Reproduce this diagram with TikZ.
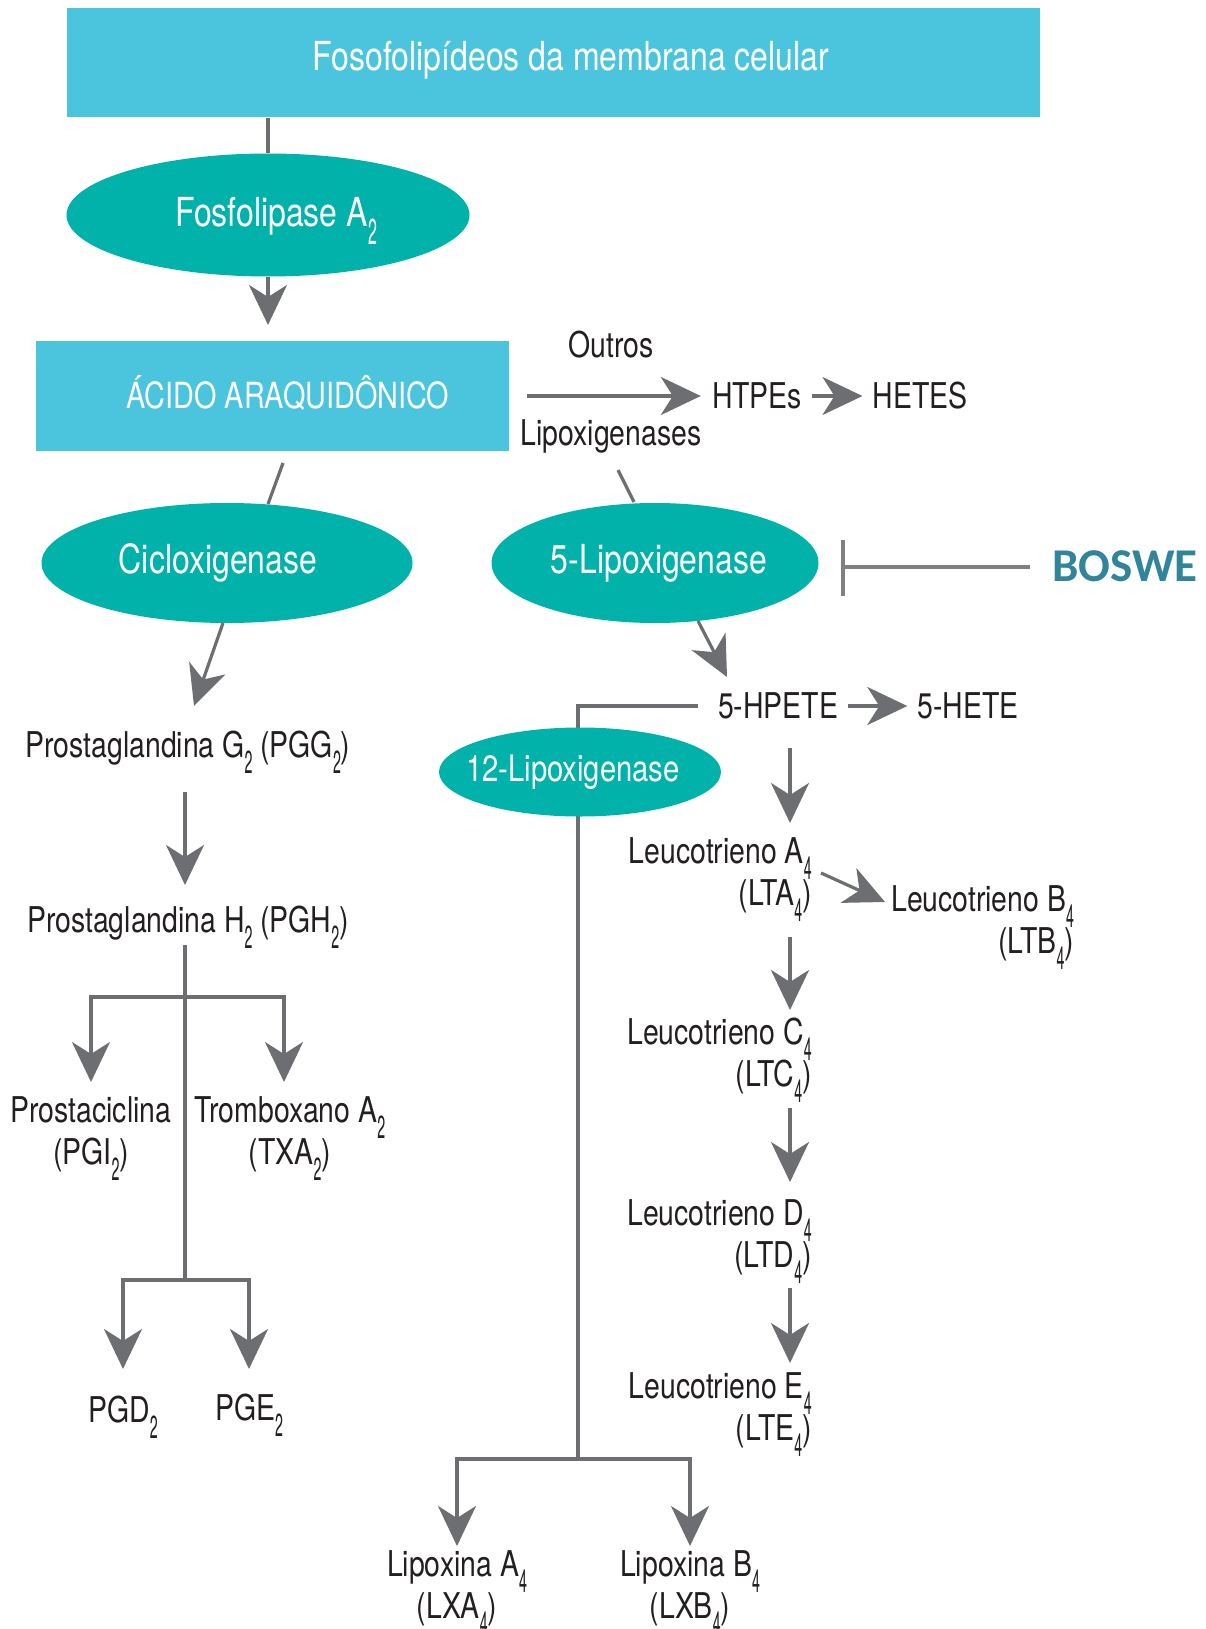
\documentclass[tikz,border=0pt]{standalone}
\usepackage{fontspec}
\setmainfont{TeX Gyre Heros}[FakeStretch=0.8]
\newfontfamily\bosfont{Carlito}
\usetikzlibrary{shapes.geometric,arrows.meta}
\definecolor{boxc}{RGB}{75,197,222}
\definecolor{ellc}{RGB}{0,178,170}
\definecolor{linec}{RGB}{109,110,113}
\definecolor{txtc}{RGB}{35,31,32}
\definecolor{bosc}{RGB}{49,133,155}
\definecolor{inhc}{RGB}{128,128,128}
\newcommand\sbs[1]{\raisebox{-0.45em}[0pt][0pt]{\scalebox{0.5}[0.9]{#1}}}
\begin{document}
\begin{tikzpicture}[x=1pt,y=-1pt,
 box/.style={fill=boxc, draw=none, inner sep=0pt},
 ell/.style={ellipse, fill=ellc, draw=none, inner sep=0pt},
 wtext/.style={text=white, font=\fontsize{40}{44}\selectfont, inner sep=0pt},
 btext/.style={text=txtc, font=\fontsize{35.5}{42}\selectfont, inner sep=0pt},
 conn/.style={draw=linec, line width=3.2pt},
 arr/.style={conn, -{Stealth[length=40pt,width=38pt,inset=12pt]}},
 inhline/.style={draw=inhc, line width=4.5pt},
]
\useasboundingbox (0,0) rectangle (1205,1629);

% top box
\node[box, minimum width=973pt, minimum height=109pt] (fos) at (553,63) {};
\node[wtext] (fost) at (571,60) {Fosofolipídeos da membrana celular};

% Fosfolipase
\node[ell, minimum width=403pt, minimum height=123pt] (fla) at (268,215) {};
\node[wtext] (flat) at (276,216) {Fosfolipase A\sbs{2}};
\draw[conn] (fla.north |- fos.south) -- (fla.north);
\coordinate (aatop) at (268,325);
\draw[arr] (fla.south) -- (aatop);

% acido araquidonico
\node[box, minimum width=473pt, minimum height=110pt] (aa) at (272.5,396) {};
\node[wtext, font=\fontsize{36}{40}\selectfont] (aat) at (288,393) {ÁCIDO ARAQUIDÔNICO};

\node[btext] (outros) at (611,345) {Outros};
\node[btext] (lipx) at (611,436) {Lipoxigenases};
\node[btext] (htpes) at (757,396) {HTPEs};
\node[btext] (hetes) at (920,396) {HETES};
\draw[arr] ([xshift=18pt]aa.east) -- ([xshift=-11pt]htpes.west);
\draw[arr, shorten <=10pt, shorten >=10pt] (htpes) -- (hetes);

% enzymes
\node[ell, minimum width=371pt, minimum height=120pt] (cox) at (227,563) {};
\node[wtext] (coxt) at (218,563) {Cicloxigenase};
\node[ell, minimum width=327pt, minimum height=120pt] (lox5) at (655,563) {};
\node[wtext] (lox5t) at (659,563) {5-Lipoxigenase};
\coordinate (c1a) at (283,463); \coordinate (c1b) at (268,504);
\draw[conn] (c1a) -- (c1b);
\coordinate (c2a) at (618,470); \coordinate (c2b) at (634,502);
\draw[conn] (c2a) -- (c2b);

% inhibition
\coordinate (inh) at (843,567);
\node[anchor=west, inner sep=0pt, text=bosc, font=\bosfont\bfseries\fontsize{47}{50}\selectfont] (bos) at (1052,566) {BOSWE};
\draw[inhline] ([xshift=-22pt]bos.west |- inh) -- (inh);
\draw[inhline] ([yshift=27pt]inh) -- ([yshift=-29pt]inh);

% left column
\coordinate (coxout) at (223,623);
\coordinate (pggtip) at (194,706);
\draw[arr] (coxout) -- (pggtip);
\node[btext] (pgg) at (188,748) {Prostaglandina G\sbs{2} (PGG\sbs{2})};
\node[btext] (pgh) at (188,923) {Prostaglandina H\sbs{2} (PGH\sbs{2})};
\coordinate (pgha) at (185,792); \coordinate (pghtip) at (185,885);
\draw[arr] (pgha) -- (pghtip);
\coordinate (t1) at (185,945); \coordinate (b1) at (185,997); \coordinate (b2) at (185,1280);
\draw[conn] (t1) -- (b2);
\coordinate (pgitip) at (91,1082); \coordinate (txatip) at (284,1082);
\draw[arr] (b1) -| (pgitip);
\draw[arr] (b1) -| (txatip);
\node[btext, align=center] (pgi) at (91,1134) {Prostaciclina\\(PGI\sbs{2})};
\node[btext, align=center] (txa) at (290,1134) {Tromboxano A\sbs{2}\\(TXA\sbs{2})};
\coordinate (pgdtip) at (123,1369); \coordinate (pgetip) at (249,1369);
\draw[arr] (b2) -| (pgdtip);
\draw[arr] (b2) -| (pgetip);
\node[btext] (pgd) at (123,1410) {PGD\sbs{2}};
\node[btext] (pge) at (249,1408) {PGE\sbs{2}};

% right column
\coordinate (lox5out) at (698,621);
\coordinate (hptip) at (727,677);
\draw[arr] (lox5out) -- (hptip);
\node[btext] (hpete) at (778,706) {5-HPETE};
\node[btext] (hete) at (968,706) {5-HETE};
\draw[arr, shorten <=10pt, shorten >=10pt] (hpete) -- (hete);
\coordinate (b3) at (578,1459);
\draw[conn] ([xshift=-20pt]hpete.west) -| (b3);
\node[ell, minimum width=282pt, minimum height=89pt] (lox12) at (580,772) {};
\node[wtext, font=\fontsize{36.5}{40}\selectfont] (lox12t) at (573,772) {12-Lipoxigenase};
\coordinate (lxatip) at (457,1546); \coordinate (lxbtip) at (690,1546);
\draw[arr] (b3) -| (lxatip);
\draw[arr] (b3) -| (lxbtip);
\node[btext, align=center] (lxa) at (457,1588) {Lipoxina A\sbs{4}\\(LXA\sbs{4})};
\node[btext, align=center] (lxb) at (690,1588) {Lipoxina B\sbs{4}\\(LXB\sbs{4})};

% leukotrienes
\node[btext, align=right, anchor=east] (lta) at (812,875) {Leucotrieno A\sbs{4}\\(LTA\sbs{4})};
\begin{scope}
\clip (0,0) rectangle (1078,1629);
\node[btext, align=right, anchor=west] (ltb) at (891,923) {Leucotrieno B\sbs{4}\\(LTB\sbs{4})};
\end{scope}
\node[btext, align=right, anchor=east] (ltc) at (812,1056) {Leucotrieno C\sbs{4}\\(LTC\sbs{4})};
\node[btext, align=right, anchor=east] (ltd) at (812,1237) {Leucotrieno D\sbs{4}\\(LTD\sbs{4})};
\node[btext, align=right, anchor=east] (lte) at (812,1410) {Leucotrieno E\sbs{4}\\(LTE\sbs{4})};

\coordinate (x1) at (790,748); \coordinate (x1t) at (790,823);
\draw[arr] (x1) -- (x1t);
\coordinate (y1) at (821,873); \coordinate (y1t) at (885,902);
\draw[arr] (y1) -- (y1t);
\coordinate (x2) at (790,937); \coordinate (x2t) at (790,1010);
\draw[arr] (x2) -- (x2t);
\coordinate (x3) at (790,1108); \coordinate (x3t) at (790,1182);
\draw[arr] (x3) -- (x3t);
\coordinate (x4) at (790,1288); \coordinate (x4t) at (790,1363);
\draw[arr] (x4) -- (x4t);
\end{tikzpicture}
\end{document}
